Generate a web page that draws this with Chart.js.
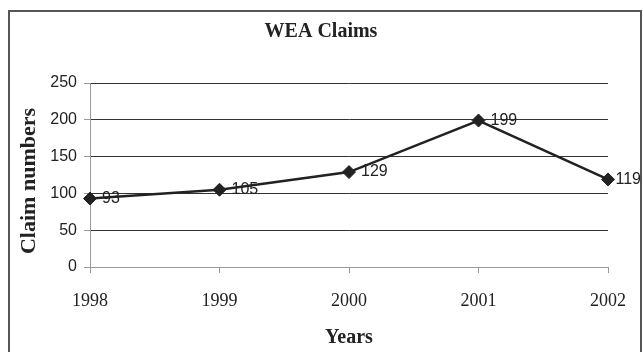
<!DOCTYPE html>
<html>
<head>
<meta charset="utf-8">
<style>
  html, body { margin: 0; padding: 0; background: #ffffff; }
  canvas { display: block; }
</style>
<script src="https://cdn.jsdelivr.net/npm/chart.js@4/dist/chart.umd.min.js"></script>
</head>
<body>
<canvas id="c" width="643" height="352"></canvas>
<script>
const years = ['1998', '1999', '2000', '2001', '2002'];
const claims = [93, 105, 129, 199, 119];
const yTicks = [0, 50, 100, 150, 200, 250];
const chartTitle = 'WEA Claims';
const xTitle = 'Years';
const yTitle = 'Claim numbers';

const SERIF = '"Liberation Serif", "Times New Roman", serif';
const SANS = '"Liberation Sans", Arial, sans-serif';

const frame = {
  id: 'frame',
  beforeDraw(chart) {
    const ctx = chart.ctx;
    ctx.save();
    ctx.fillStyle = '#ffffff';
    ctx.fillRect(0, 0, chart.width, chart.height);
    ctx.strokeStyle = '#555555';
    ctx.lineWidth = 2;
    ctx.strokeRect(9, 11, 632, 400);
    ctx.restore();
  },
  afterDraw(chart) {
    const ctx = chart.ctx;
    ctx.save();
    ctx.fillStyle = '#222222';
    ctx.textAlign = 'center';
    ctx.textBaseline = 'middle';
    ctx.font = 'bold 20px ' + SERIF;
    ctx.fillText(chartTitle, 321, 32);
    ctx.translate(29, 181);
    ctx.rotate(-Math.PI / 2);
    ctx.font = 'bold 22px ' + SERIF;
    ctx.fillText(yTitle, 0, 0);
    ctx.restore();
  }
};

const valueLabels = {
  id: 'valueLabels',
  afterDatasetsDraw(chart) {
    const ctx = chart.ctx;
    const meta = chart.getDatasetMeta(0);
    ctx.save();
    ctx.font = '16px ' + SANS;
    ctx.fillStyle = '#222222';
    ctx.textAlign = 'left';
    ctx.textBaseline = 'middle';
    meta.data.forEach((pt, i) => {
      const txt = String(claims[i]);
      const w = ctx.measureText(txt).width;
      const x = Math.min(pt.x + 12, chart.width - 2 - w);
      ctx.fillText(txt, x, pt.y);
    });
    ctx.restore();
  }
};

new Chart(document.getElementById('c'), {
  type: 'line',
  data: {
    labels: years,
    datasets: [{
      data: claims,
      borderColor: '#222222',
      borderWidth: 2.5,
      tension: 0,
      pointStyle: 'rectRot',
      pointRadius: 6.5,
      pointBackgroundColor: '#222222',
      pointBorderColor: '#222222',
      pointBorderWidth: 1
    }]
  },
  options: {
    responsive: false,
    animation: false,
    devicePixelRatio: 1,
    layout: { padding: { left: 0, right: 33, top: 83, bottom: 0 } },
    plugins: {
      legend: { display: false },
      tooltip: { enabled: false },
      title: { display: false }
    },
    scales: {
      x: {
        offset: false,
        grid: {
          drawOnChartArea: false,
          drawTicks: true,
          tickLength: 6,
          tickColor: '#999999'
        },
        border: { display: true, color: '#999999', width: 1 },
        ticks: {
          color: '#222222',
          padding: 17,
          font: { family: SERIF, size: 18 }
        },
        title: {
          display: true,
          text: xTitle,
          color: '#222222',
          font: { family: SERIF, size: 20, weight: 'bold' },
          padding: { top: 0, bottom: 2 }
        },
        afterFit(scale) { scale.height = 85; }
      },
      y: {
        min: 0,
        max: 250,
        afterBuildTicks(scale) { scale.ticks = yTicks.map(v => ({ value: v })); },
        grid: {
          color: (ctx) => (ctx.tick && ctx.tick.value === 0) ? '#999999' : '#333333',
          lineWidth: 1,
          drawTicks: true,
          tickLength: 6,
          tickColor: '#999999'
        },
        border: { display: true, color: '#999999', width: 1 },
        ticks: {
          color: '#222222',
          padding: 7,
          font: { family: SANS, size: 16 }
        },
        title: { display: false },
        afterFit(scale) { scale.width = 90; }
      }
    }
  },
  plugins: [frame, valueLabels]
});
</script>
</body>
</html>
